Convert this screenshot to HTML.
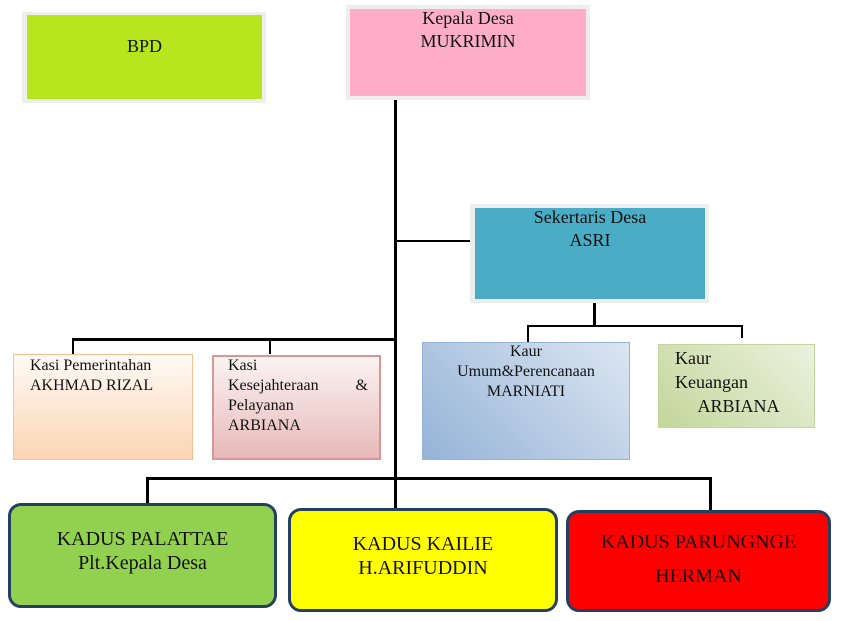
<!DOCTYPE html>
<html><head><meta charset="utf-8"><style>
body{margin:0;width:843px;height:621px;background:#fff;position:relative;overflow:hidden;font-family:"Liberation Serif",serif;color:#111}
div{position:absolute;box-sizing:border-box}
.l{background:#000}
.t{font-size:18px;line-height:23px}
.c{text-align:center}
.k{border:3px solid #243f60;border-radius:13px;font-size:20px;line-height:24px;text-align:center}
</style></head><body>
<div style="left:22px;top:12px;width:244px;height:91px;background:#eee"></div>
<div style="left:27px;top:15px;width:235px;height:84px;background:#b7e61f"></div>
<div class="t c" style="left:27px;top:35px;width:235px">BPD</div>

<div style="left:346px;top:5px;width:244px;height:95px;background:#eee"></div>
<div style="left:350px;top:9px;width:236px;height:87px;background:#fdadc8"></div>
<div class="t c" style="left:350px;top:7px;width:236px">Kepala Desa<br>MUKRIMIN</div>

<div class="l" style="left:394px;top:100px;width:3px;height:408px"></div>

<div class="l" style="left:397px;top:240px;width:77px;height:2px"></div>
<div style="left:470px;top:204px;width:239px;height:99px;background:#eee"></div>
<div style="left:475px;top:208px;width:230px;height:91px;background:#4bacc6"></div>
<div class="t c" style="left:475px;top:206px;width:230px">Sekertaris Desa<br>ASRI</div>

<div class="l" style="left:593px;top:303px;width:3px;height:24px"></div>
<div class="l" style="left:527px;top:325px;width:216px;height:2px"></div>
<div class="l" style="left:527px;top:325px;width:2px;height:18px"></div>
<div class="l" style="left:741px;top:325px;width:2px;height:13px"></div>

<div style="left:422px;top:342px;width:208px;height:118px;border:1px solid #95b3d7;background:linear-gradient(45deg,#95b3d7,#dce6f2)"></div>
<div class="c" style="left:422px;top:342px;width:208px;font-size:16px;line-height:20px">Kaur<br>Umum&amp;Perencanaan<br>MARNIATI</div>

<div style="left:658px;top:344px;width:157px;height:84px;border:1px solid #c3d69b;background:linear-gradient(45deg,#c3d69b,#ebf1de)"></div>
<div class="t" style="left:675px;top:346px;line-height:24px">Kaur<br>Keuangan<br>&nbsp;&nbsp;&nbsp;&nbsp;&nbsp;ARBIANA</div>

<div class="l" style="left:72px;top:338px;width:324px;height:3px"></div>
<div class="l" style="left:72px;top:338px;width:2px;height:17px"></div>
<div class="l" style="left:269px;top:338px;width:2px;height:16px"></div>

<div style="left:13px;top:354px;width:180px;height:106px;border:1px solid #fac090;background:linear-gradient(#fffaf6,#fcd5b4)"></div>
<div style="left:30px;top:356px;font-size:16px;line-height:20px">Kasi Pemerintahan<br>AKHMAD RIZAL</div>

<div style="left:212px;top:355px;width:169px;height:105px;border:2px solid #d99694;background:linear-gradient(#fbf3f3,#e6b9b8)"></div>
<div style="left:228px;top:356px;width:140px;font-size:16px;line-height:20px">Kasi<br>Kesejahteraan<span style="float:right">&amp;</span><br>Pelayanan<br>ARBIANA</div>

<div class="l" style="left:146px;top:477px;width:566px;height:3px"></div>
<div class="l" style="left:146px;top:477px;width:3px;height:27px"></div>
<div class="l" style="left:709px;top:477px;width:3px;height:33px"></div>

<div class="k" style="left:8px;top:503px;width:269px;height:105px;background:#92d050;padding-top:21px">KADUS PALATTAE<br>Plt.Kepala Desa</div>
<div class="k" style="left:288px;top:508px;width:270px;height:104px;background:#ffff00;padding-top:21px">KADUS KAILIE<br>H.ARIFUDDIN</div>
<div class="k" style="left:566px;top:510px;width:265px;height:102px;background:#ff0000;padding-top:17px">KADUS PARUNGNGE<br><span style="display:inline-block;margin-top:10px">HERMAN</span></div>
</body></html>
